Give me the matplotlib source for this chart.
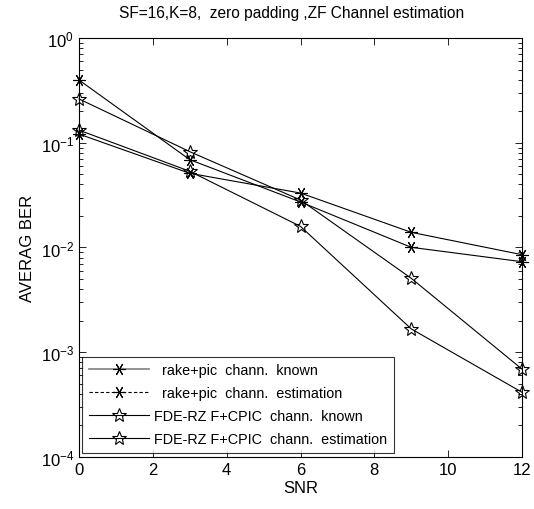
import matplotlib.pyplot as plt
from matplotlib.lines import Line2D

plt.rcParams["font.family"] = ["Liberation Sans", "DejaVu Sans"]
plt.rcParams["mathtext.fontset"] = "custom"
plt.rcParams["mathtext.rm"] = "Liberation Sans"

snr = [0, 3, 6, 9, 12]

# BER values
rake_known = [0.121, 0.0511, 0.0331, 0.01396, 0.00854]
rake_est = [0.397, 0.0689, 0.0272, 0.01004, 0.00732]
fde_known = [0.132, 0.0534, 0.0159, 0.00167, 0.000415]
fde_est = [0.262, 0.0822, 0.0284, 0.00508, 0.00069]

labels = [
    "  rake+pic  chann.  known",
    "  rake+pic  chann.  estimation",
    "FDE-RZ F+CPIC  chann.  known",
    "FDE-RZ F+CPIC  chann.  estimation",
]

asterisk = (6, 2, 90)

fig = plt.figure(figsize=(5.34, 5.10), dpi=100)
ax = fig.add_axes([0.148, 0.102, 0.8295, 0.8215])

for ys in (rake_known, rake_est):
    ax.semilogy(snr, ys, color="black", lw=0.8, marker=asterisk, ms=9, mew=0.8,
                clip_on=False, zorder=3)
for ys in (fde_known, fde_est):
    ax.semilogy(snr, ys, color="black", lw=0.8, marker="*", ms=10, mew=0.8,
                mfc="none", clip_on=False, zorder=3)

ax.set_xlim(0, 12)
ax.set_ylim(1e-4, 1)
ax.set_xticks([0, 2, 4, 6, 8, 10, 12])
ax.tick_params(which="both", direction="in", top=True, right=True, labelsize=12)
ax.tick_params(which="major", length=5, width=0.6)
ax.tick_params(which="minor", length=3, width=0.6)
for s in ax.spines.values():
    s.set_linewidth(0.8)

ax.set_xlabel("SNR", fontsize=12, labelpad=2)
ax.set_ylabel("AVERAG BER", fontsize=12, labelpad=4)
ax.set_title("SF=16,K=8,  zero padding ,ZF Channel estimation", fontsize=11.2,
             pad=15, x=0.48)

handles = [
    Line2D([], [], color="gray", lw=1.2, marker=asterisk, ms=9, mec="black", mew=0.8),
    Line2D([], [], color="black", lw=0.8, ls=(0, (3, 2)), marker=asterisk, ms=9,
           mew=0.8),
    Line2D([], [], color="black", lw=0.8, marker="*", ms=10, mfc="none", mew=0.8),
    Line2D([], [], color="black", lw=0.8, marker="*", ms=10, mfc="none", mew=0.8),
]
leg = ax.legend(handles, labels, loc="lower left", bbox_to_anchor=(0.007, 0.01),
                fontsize=10.4, frameon=True, fancybox=False, handlelength=4.2,
                handletextpad=0.35, labelspacing=0.62, borderaxespad=0,
                borderpad=0.45)
leg.get_frame().set_edgecolor("black")
leg.get_frame().set_linewidth(0.8)
leg.set_zorder(5)

fig.savefig("out.png", dpi=100)
